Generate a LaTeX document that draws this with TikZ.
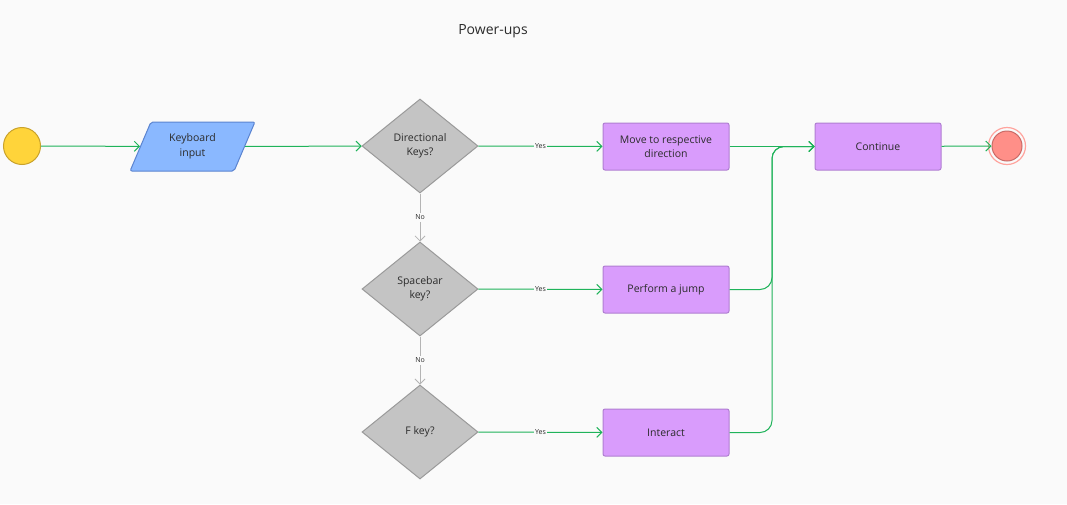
\documentclass[tikz,border=0pt]{standalone}
\usepackage{fontspec}
\setmainfont{Open Sans}
\usepackage{tikz}
\usetikzlibrary{arrows.meta,shapes.geometric}
\definecolor{bgcol}{HTML}{FAFAFA}
\definecolor{flowgreen}{HTML}{1FB35A}
\definecolor{nogray}{HTML}{B4B4B4}
\definecolor{txtcol}{HTML}{2B2B2B}
\definecolor{startfill}{HTML}{FFD43A}
\definecolor{startline}{HTML}{C9A22B}
\definecolor{inputfill}{HTML}{8AB8FF}
\definecolor{inputline}{HTML}{5B84D0}
\definecolor{decfill}{HTML}{C4C4C4}
\definecolor{decline}{HTML}{9A9A9A}
\definecolor{actfill}{HTML}{D99CFC}
\definecolor{actline}{HTML}{B07ED2}
\definecolor{endfill}{HTML}{FF8F88}
\definecolor{endline}{HTML}{C96A66}
\definecolor{endring}{HTML}{FFA49E}
\tikzset{
  nodetext/.style={text=txtcol,font=\fontsize{10.5}{14.5}\selectfont,align=center},
  startnode/.style={shape=circle,fill=startfill,draw=startline,line width=1pt,minimum size=37,inner sep=0},
  inputnode/.style={nodetext,shape=trapezium,trapezium left angle=65,trapezium right angle=115,
    trapezium stretches=true,minimum width=125,minimum height=49,fill=inputfill,draw=inputline,
    line width=1pt,rounded corners=2,inner sep=0},
  decision/.style={nodetext,shape=diamond,minimum width=116,minimum height=94,fill=decfill,
    draw=decline,line width=1pt,inner sep=0},
  action/.style={nodetext,shape=rectangle,minimum width=126,minimum height=47,fill=actfill,
    draw=actline,line width=1pt,rounded corners=2},
  endnode/.style={shape=circle,fill=endfill,draw=endline,line width=1pt,minimum size=30,inner sep=0},
  flow/.style={draw=flowgreen,line width=1pt},
  noflow/.style={draw=nogray,line width=0.8pt},
  edgelabel/.style={fill=bgcol,text=txtcol,font=\fontsize{7}{8}\selectfont,inner sep=1.5pt}
}
\begin{document}
\begin{tikzpicture}[x=1pt,y=-1pt,>={Straight Barb[length=5pt,width=10pt]}]
                \fill[bgcol] (0,0) rectangle (1067,504);
                \node[nodetext,font=\fontsize{14}{16}\selectfont] (T) at (493,31) {Power-ups};

                \node[startnode] (A) at (22,146) {};
                \node[inputnode] (B) at (192.5,146.5) {Keyboard\\input};
                \node[decision] (C) at (420,146) {Directional\\Keys?};
                \node[decision] (D) at (420,289) {Spacebar\\key?};
                \node[decision] (E) at (420,432) {F key?};
                \node[action] (F) at (666,146.5) {Move to respective\\direction};
                \node[action] (G) at (666,289.5) {Perform a jump};
                \node[action] (H) at (666,432.5) {Interact};
                \node[action] (I) at (878,146.5) {Continue};
                \node[endnode] (J) at (1007,146) {};
                \draw[endring,line width=1.2pt] (J.center) circle (18.5);
                \coordinate (K) at (772,146.5);

                \path [->,flow](A) edge (B);
                \path [->,flow](B) edge (C);
                \path [->,flow](C) edge node[edgelabel] {Yes} (F);
                \path [->,flow](D) edge node[edgelabel] {Yes} (G);
                \path [->,flow](E) edge node[edgelabel] {Yes} (H);
                \path [->,noflow](C) edge node[edgelabel] {No} (D);
                \path [->,noflow](D) edge node[edgelabel] {No} (E);
                \path [->,flow](F) edge (I);
                \draw [->,flow,rounded corners=12](G.east) -| (K) -- (I.west);
                \draw [->,flow,rounded corners=12](H.east) -| (K) -- (I.west);
                \path [->,flow](I) edge (J);
            \end{tikzpicture}
\end{document}
